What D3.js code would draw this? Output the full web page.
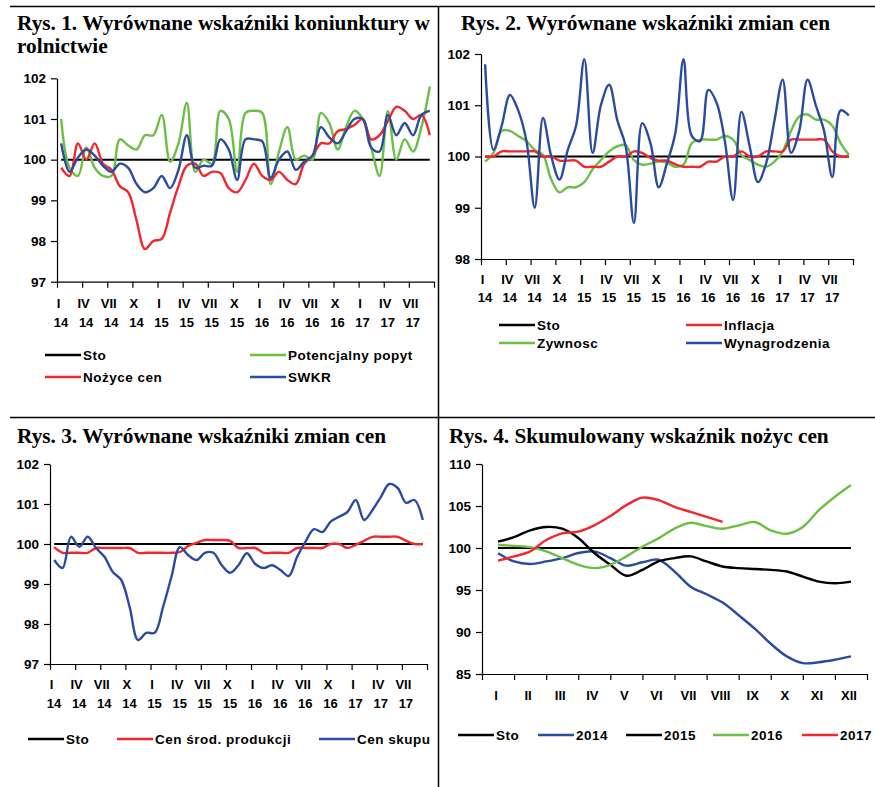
<!DOCTYPE html>
<html>
<head>
<meta charset="utf-8">
<script src="https://cdn.jsdelivr.net/npm/d3@7"></script>
<style>
  body { margin: 0; background: #fff; }
  .title { font-family: "Liberation Serif", "Times New Roman", serif; font-weight: bold; font-size: 21.3px; }
  .tick text, .lab { font-family: "Liberation Sans", Arial, sans-serif; font-weight: bold; font-size: 13px; fill: #000; }
  .leg { font-family: "Liberation Sans", Arial, sans-serif; font-weight: bold; font-size: 13.5px; letter-spacing: 0.5px; fill: #000; }
</style>
</head>
<body>
<div class="chart"></div>
<script>
// tick labels
const quarterRoman = ['I', 'IV', 'VII', 'X', 'I', 'IV', 'VII', 'X', 'I', 'IV', 'VII', 'X', 'I', 'IV', 'VII'];
const quarterYear = ['14', '14', '14', '14', '15', '15', '15', '15', '16', '16', '16', '16', '17', '17', '17'];
const monthRoman = ['I', 'II', 'III', 'IV', 'V', 'VI', 'VII', 'VIII', 'IX', 'X', 'XI', 'XII'];
const sto = 100;

// Rys. 1 (I 2014 - IX 2017, monthly)
const potencjalnyPopyt = [101.0, 99.8, 99.6, 100.3, 99.8, 99.6, 99.6, 100.5, 100.35, 100.25, 100.6, 100.6, 101.1, 99.95, 100.4,
    101.4, 99.7, 100.0, 99.9, 101.2, 101.0, 99.7, 101.15, 101.2, 101.15, 99.4, 100.2, 100.8, 100.0, 100.1,
    100.0, 101.15, 100.9, 100.25, 100.8, 101.2, 101.0, 100.3, 99.6, 101.2, 100.0, 100.5, 100.2, 100.8, 101.8];
const nozyceCen = [99.8, 99.6, 100.4, 100.0, 100.4, 99.9, 99.75, 99.35, 99.2, 98.5, 97.8, 98.0, 98.05, 98.7, 99.35,
    99.85, 99.9, 99.6, 99.7, 99.67, 99.3, 99.2, 99.5, 99.9, 99.6, 99.5, 99.7, 99.5, 99.4, 99.9,
    100.1, 100.4, 100.4, 100.7, 100.75, 100.85, 101.0, 100.5, 100.6, 100.95, 101.3, 101.2, 101.0, 101.1, 100.6];
const swkr = [100.4, 99.7, 100.05, 100.25, 100.1, 99.85, 99.7, 99.9, 99.8, 99.4, 99.2, 99.3, 99.6, 99.3, 99.75,
    100.6, 99.8, 99.85, 99.85, 100.5, 100.25, 99.5, 100.5, 100.5, 100.45, 99.55, 100.0, 100.2, 99.75, 99.95,
    100.1, 100.8, 100.55, 100.4, 100.7, 101.0, 101.0, 100.3, 100.2, 101.1, 100.6, 100.9, 100.6, 101.1, 101.2];

// Rys. 2
const inflacja = [100.0, 100.0, 100.1, 100.1, 100.1, 100.1, 100.1, 100.0, 100.0, 99.92, 99.92, 99.92, 99.8, 99.8, 99.8,
    99.9, 100.0, 100.0, 100.1, 100.07, 99.97, 99.92, 99.92, 99.85, 99.8, 99.8, 99.8, 99.9, 99.9, 100.0,
    100.0, 100.1, 100.0, 100.0, 100.1, 100.1, 100.1, 100.33, 100.33, 100.33, 100.33, 100.33, 100.1, 100.0, 100.0];
const zywnosc = [99.9, 100.07, 100.5, 100.5, 100.4, 100.3, 100.13, 100.03, 99.55, 99.3, 99.4, 99.4, 99.5, 99.75, 99.93,
    100.1, 100.2, 100.22, 99.93, 99.84, 99.86, 99.9, 99.88, 99.8, 99.84, 100.26, 100.33, 100.33, 100.33, 100.4,
    100.33, 100.03, 99.93, 99.84, 99.8, 99.9, 100.1, 100.5, 100.78, 100.82, 100.72, 100.72, 100.6, 100.26, 100.03];
const wynagrodzenia = [101.8, 100.13, 100.6, 101.2, 100.9, 100.3, 99.0, 100.75, 100.0, 99.55, 100.13, 100.6, 101.9, 100.07, 101.0,
    101.4, 100.7, 100.2, 98.7, 100.65, 100.26, 99.4, 99.87, 100.45, 101.9, 100.4, 100.3, 101.3, 101.05, 100.3,
    99.15, 100.87, 100.2, 99.5, 99.87, 100.7, 101.5, 100.07, 100.5, 101.5, 101.0, 100.5, 99.6, 100.9, 100.8];

// Rys. 3
const cenSrodProdukcji = [99.92, 99.78, 99.78, 99.78, 99.78, 99.9, 99.9, 99.9, 99.9, 99.9, 99.78, 99.78, 99.78, 99.78, 99.78,
    99.8, 99.95, 100.03, 100.1, 100.1, 100.1, 100.08, 99.9, 99.9, 99.9, 99.78, 99.78, 99.78, 99.78, 99.9,
    99.9, 99.9, 99.9, 100.0, 100.0, 99.9, 99.98, 100.08, 100.18, 100.18, 100.18, 100.18, 100.08, 100.0, 100.0];
const cenSkupu = [99.6, 99.4, 100.18, 99.93, 100.18, 99.9, 99.68, 99.3, 99.1, 98.43, 97.6, 97.78, 97.78, 98.43, 99.18,
    99.92, 99.72, 99.6, 99.78, 99.78, 99.47, 99.28, 99.47, 99.77, 99.5, 99.4, 99.47, 99.35, 99.2, 99.68,
    100.06, 100.37, 100.3, 100.56, 100.68, 100.8, 101.1, 100.6, 100.85, 101.18, 101.5, 101.4, 101.03, 101.1, 100.6];

// Rys. 4 (half-month readings, I - XII)
const y2014 = [99.37, 98.4, 98.1, 98.4, 98.8, 99.4, 99.6, 98.8, 97.9, 98.3, 98.6, 97.2, 95.4, 94.5, 93.5, 92.0,
    90.4, 88.6, 87.1, 86.3, 86.4, 86.7, 87.1];
const y2015 = [100.75, 101.3, 102.1, 102.5, 102.3, 101.2, 99.4, 98.0, 96.7, 97.4, 98.4, 98.8, 99.0, 98.4, 97.8, 97.6,
    97.5, 97.4, 97.2, 96.6, 96.0, 95.8, 96.0];
const y2016 = [100.36, 100.25, 100.1, 99.6, 98.8, 98.0, 97.6, 98.0, 99.0, 100.15, 101.15, 102.3, 103.0, 102.6, 102.3, 102.7,
    103.1, 102.1, 101.7, 102.5, 104.5, 106.1, 107.5];
const y2017 = [98.5, 99.0, 99.6, 100.95, 101.75, 101.95, 102.7, 103.8, 105.1, 106.0, 105.7, 104.9, 104.3, 103.7, 103.1];

const GREEN = '#6cbf45', RED = '#f0282d', BLUE = '#2b4c9e', BLACK = '#000';

const svg = d3.select('.chart')
    .append('svg')
        .attr('width', 875)
        .attr('height', 787);

svg.append('rect').attr('width', 875).attr('height', 787).attr('fill', '#fff');

// frame lines between panels
svg.append('line').attr('x1', 10).attr('x2', 875).attr('y1', 6.5).attr('y2', 6.5).attr('stroke', '#000').attr('stroke-width', 1.5);
svg.append('line').attr('x1', 10).attr('x2', 875).attr('y1', 417.5).attr('y2', 417.5).attr('stroke', '#000').attr('stroke-width', 1.5);
svg.append('line').attr('x1', 438.5).attr('x2', 438.5).attr('y1', 6).attr('y2', 787).attr('stroke', '#000').attr('stroke-width', 1.5);

const panels = [
    {
        title: ['Rys. 1. Wyrównane wskaźniki koniunktury w', 'rolnictwie'], tx: 17, ty: 30,
        x0: 57, x1: 434, yTop: 78.3, yBot: 281.7, domain: [97, 102], yTicks: [97, 98, 99, 100, 101, 102],
        n: 45, monthly: true, labY: [308, 327],
        series: [
            {name: 'Potencjalny popyt', values: potencjalnyPopyt, color: GREEN},
            {name: 'Nożyce cen', values: nozyceCen, color: RED},
            {name: 'SWKR', values: swkr, color: BLUE}
        ],
        legend: [
            {name: 'Sto', color: BLACK, x: 45, y: 355},
            {name: 'Potencjalny popyt', color: GREEN, x: 250, y: 355},
            {name: 'Nożyce cen', color: RED, x: 45, y: 377},
            {name: 'SWKR', color: BLUE, x: 250, y: 377}
        ]
    },
    {
        title: ['Rys. 2. Wyrównane wskaźniki zmian cen'], tx: 461, ty: 30,
        x0: 481, x1: 853, yTop: 54, yBot: 259, domain: [98, 102], yTicks: [98, 99, 100, 101, 102],
        n: 45, monthly: true, labY: [284, 302],
        series: [
            {name: 'Zywnosc', values: zywnosc, color: GREEN},
            {name: 'Inflacja', values: inflacja, color: RED},
            {name: 'Wynagrodzenia', values: wynagrodzenia, color: BLUE}
        ],
        legend: [
            {name: 'Sto', color: BLACK, x: 499, y: 325},
            {name: 'Inflacja', color: RED, x: 686, y: 325},
            {name: 'Zywnosc', color: GREEN, x: 499, y: 343},
            {name: 'Wynagrodzenia', color: BLUE, x: 686, y: 343}
        ]
    },
    {
        title: ['Rys. 3. Wyrównane wskaźniki zmian cen'], tx: 17, ty: 443,
        x0: 50, x1: 427, yTop: 464, yBot: 664, domain: [97, 102], yTicks: [97, 98, 99, 100, 101, 102],
        n: 45, monthly: true, labY: [689, 708],
        series: [
            {name: 'Cen środ. produkcji', values: cenSrodProdukcji, color: RED},
            {name: 'Cen skupu', values: cenSkupu, color: BLUE}
        ],
        legend: [
            {name: 'Sto', color: BLACK, x: 28, y: 739},
            {name: 'Cen środ. produkcji', color: RED, x: 117, y: 739},
            {name: 'Cen skupu', color: BLUE, x: 319, y: 739}
        ]
    },
    {
        title: ['Rys. 4. Skumulowany wskaźnik nożyc cen'], tx: 449, ty: 443,
        x0: 482, x1: 867, yTop: 464, yBot: 674, domain: [85, 110], yTicks: [85, 90, 95, 100, 105, 110],
        n: 12, monthly: false, labY: [700],
        series: [
            {name: '2014', values: y2014, color: BLUE},
            {name: '2015', values: y2015, color: BLACK},
            {name: '2016', values: y2016, color: GREEN},
            {name: '2017', values: y2017, color: RED}
        ],
        legend: [
            {name: 'Sto', color: BLACK, x: 458, y: 735},
            {name: '2014', color: BLUE, x: 538, y: 735},
            {name: '2015', color: BLACK, x: 626, y: 735},
            {name: '2016', color: GREEN, x: 713, y: 735},
            {name: '2017', color: RED, x: 802, y: 735}
        ]
    }
];

panels.forEach(drawPanel);

function drawPanel(p) {
    const g = svg.append('g');

    g.selectAll('text.title')
        .data(p.title)
        .enter()
        .append('text')
        .attr('class', 'title')
        .attr('x', p.tx)
        .attr('y', (d, i) => p.ty + i * 23)
        .text(d => d);

    const xScale = d3.scaleLinear().domain([0, p.n]).range([p.x0, p.x1]);
    const yScale = d3.scaleLinear().domain(p.domain).range([p.yBot, p.yTop]);

    // y axis
    const yAxis = d3.axisLeft(yScale)
        .tickValues(p.yTicks)
        .tickFormat(d3.format('d'))
        .tickSizeInner(6)
        .tickSizeOuter(0)
        .tickPadding(5);
    g.append('g')
        .attr('transform', `translate(${p.x0}, 0)`)
        .call(yAxis)
        .call(a => a.selectAll('.tick text').style('font-size', '13.5px'))
        .call(a => a.select('.domain').attr('stroke', '#000').attr('stroke-width', 1.2))
        .call(a => a.selectAll('.tick line').attr('stroke', '#000').attr('stroke-width', 1.2));

    // x axis (tick marks only)
    const step = p.monthly ? 3 : 1;
    const xAxis = d3.axisBottom(xScale)
        .tickValues(d3.range(0, p.n + 1, step))
        .tickFormat('')
        .tickSizeInner(6)
        .tickSizeOuter(0);
    g.append('g')
        .attr('transform', `translate(0, ${p.yBot})`)
        .call(xAxis)
        .call(a => a.select('.domain').attr('stroke', '#000').attr('stroke-width', 1.2))
        .call(a => a.selectAll('.tick line').attr('stroke', '#000').attr('stroke-width', 1.2));

    // category labels
    if (p.monthly) {
        g.selectAll('text.q')
            .data(quarterRoman)
            .enter()
            .append('text')
            .attr('class', 'lab')
            .attr('text-anchor', 'middle')
            .attr('x', (d, i) => xScale(i * 3) + 1.5)
            .attr('y', p.labY[0])
            .text(d => d);
        g.selectAll('text.yr')
            .data(quarterYear)
            .enter()
            .append('text')
            .attr('class', 'lab')
            .attr('text-anchor', 'middle')
            .attr('x', (d, i) => xScale(i * 3) + 4)
            .attr('y', p.labY[1])
            .text(d => d);
    } else {
        g.selectAll('text.m')
            .data(monthRoman)
            .enter()
            .append('text')
            .attr('class', 'lab')
            .attr('text-anchor', 'middle')
            .attr('x', (d, i) => xScale(i + 0.5) - 2)
            .attr('y', p.labY[0])
            .text(d => d);
    }

    // position of the k-th point in a series
    const xPos = p.monthly ? (i => xScale(i + 0.5)) : (i => xScale(i / 2 + 0.5));
    const lastIndex = p.monthly ? p.n - 1 : (p.n - 1) * 2;

    // Sto line
    g.append('line')
        .attr('x1', xPos(0))
        .attr('x2', xPos(lastIndex))
        .attr('y1', yScale(sto))
        .attr('y2', yScale(sto))
        .attr('stroke', BLACK)
        .attr('stroke-width', 2);

    const line = d3.line()
        .x((d, i) => xPos(i))
        .y(d => yScale(d))
        .curve(d3.curveCatmullRom.alpha(0.5));

    g.selectAll('path.series')
        .data(p.series)
        .enter()
        .append('path')
        .attr('fill', 'none')
        .attr('stroke', d => d.color)
        .attr('stroke-width', 2.4)
        .attr('stroke-linejoin', 'round')
        .attr('d', d => line(d.values));

    // legend
    const lg = g.selectAll('g.legitem')
        .data(p.legend)
        .enter()
        .append('g')
        .attr('transform', d => `translate(${d.x}, ${d.y})`);
    lg.append('line')
        .attr('x1', 0)
        .attr('x2', 36)
        .attr('stroke', d => d.color)
        .attr('stroke-width', 2.4);
    lg.append('text')
        .attr('class', 'leg')
        .attr('x', 38)
        .attr('dy', '0.35em')
        .text(d => d.name);
}
</script>
</body>
</html>
